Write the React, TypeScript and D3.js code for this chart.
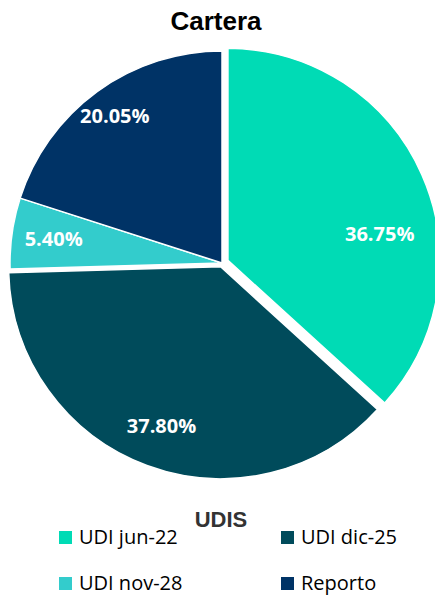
import React, { useRef, useEffect } from "react";
import * as d3 from "d3";

const categories = ["UDI jun-22", "UDI dic-25", "UDI nov-28", "Reporto"];
const shares = [36.75, 37.8, 5.4, 20.05];
const colors = ["#00DBB5", "#004B5B", "#33CCCC", "#003366"];

export default function App() {
  const ref = useRef<SVGSVGElement | null>(null);

  useEffect(() => {
    const width = 435,
      height = 596;
    const cx = 222,
      cy = 263,
      radius = 212;

    const svg = d3.select(ref.current).attr("width", width).attr("height", height);
    svg.selectAll("*").remove();

    svg
      .append("text")
      .attr("x", 216)
      .attr("y", 30)
      .attr("text-anchor", "middle")
      .style("font-family", "'Liberation Sans', Arial, sans-serif")
      .style("font-weight", "bold")
      .style("font-size", "26px")
      .attr("fill", "#000")
      .text("Cartera");

    const data = categories.map((c, i) => ({ name: c, value: shares[i], color: colors[i] }));
    const pie = d3
      .pie<any>()
      .sort(null)
      .value((d) => d.value);
    const arcs = pie(data);
    const arc = d3.arc<any>().innerRadius(0).outerRadius(radius);

    // exploded slices (px along mid-angle)
    const explode: Record<string, number> = { "UDI jun-22": 6.5, "UDI dic-25": 4 };
    // small label nudges like Excel's best fit
    const labelAngle: Record<string, number> = { "UDI jun-22": 14 };
    const labelRadius: Record<string, number> = { "UDI jun-22": 154, Reporto: 182 };

    const g = svg.append("g").attr("transform", `translate(${cx},${cy})`);

    const slice = g
      .selectAll("g.slice")
      .data(arcs)
      .enter()
      .append("g")
      .attr("class", "slice")
      .attr("transform", (d) => {
        const mid = (d.startAngle + d.endAngle) / 2;
        const k = explode[d.data.name] || 0;
        return `translate(${Math.sin(mid) * k},${-Math.cos(mid) * k})`;
      });

    slice
      .append("path")
      .attr("d", arc)
      .attr("fill", (d) => d.data.color)
      .attr("stroke", "#fff")
      .attr("stroke-width", 1.5);

    slice
      .append("text")
      .attr("transform", (d) => {
        const mid = (d.startAngle + d.endAngle) / 2 + ((labelAngle[d.data.name] || 0) * Math.PI) / 180;
        const r = labelRadius[d.data.name] || 170;
        return `translate(${Math.sin(mid) * r},${-Math.cos(mid) * r})`;
      })
      .attr("text-anchor", "middle")
      .attr("dy", "0.36em")
      .style("font-family", "'Open Sans', sans-serif")
      .style("font-weight", "bold")
      .style("font-size", "20px")
      .attr("fill", "#fff")
      .text((d) => d.data.value.toFixed(2) + "%");

    svg
      .append("text")
      .attr("x", 221)
      .attr("y", 527)
      .attr("text-anchor", "middle")
      .style("font-family", "'Liberation Sans', Arial, sans-serif")
      .style("font-weight", "bold")
      .style("font-size", "22px")
      .attr("fill", "#333")
      .text("UDIS");

    const colX = d3.scalePoint<number>().domain([0, 1]).range([59, 281]);
    const rowY = d3.scalePoint<number>().domain([0, 1]).range([544, 590]);

    const item = svg
      .selectAll("g.legend")
      .data(data)
      .enter()
      .append("g")
      .attr("class", "legend")
      .attr("transform", (d, i) => `translate(${colX(i % 2)},${rowY(Math.floor(i / 2))})`);

    item
      .append("rect")
      .attr("x", 0)
      .attr("y", -13)
      .attr("width", 13)
      .attr("height", 13)
      .attr("fill", (d) => d.color);

    item
      .append("text")
      .attr("x", 20)
      .attr("y", 0)
      .style("font-family", "'Open Sans', sans-serif")
      .style("font-size", "20px")
      .attr("fill", "#000")
      .text((d) => d.name);
  }, []);

  return (
    <div style={{ position: "absolute", left: 0, top: 0, width: 435, height: 596, overflow: "hidden" }}>
      <svg ref={ref}></svg>
    </div>
  );
}
